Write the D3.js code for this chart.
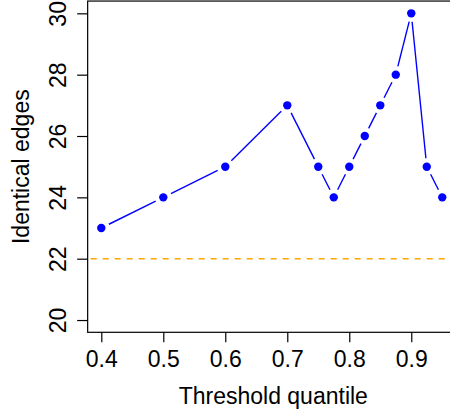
<!DOCTYPE html>
<html><head><meta charset="utf-8">
<script src="https://cdn.jsdelivr.net/npm/d3@7"></script>
<style>
html,body{margin:0;padding:0;background:#fff;}
svg{display:block;}
text{font-family:"Liberation Sans",Arial,Helvetica,sans-serif;fill:#000;}
</style></head>
<body>
<svg id="chart" width="450" height="414"></svg>
<script>
const quantiles = [0.4, 0.5, 0.6, 0.7, 0.75, 0.775, 0.8, 0.825, 0.85, 0.875, 0.9, 0.925, 0.95];
const identicalEdges = [23, 24, 25, 27, 25, 24, 25, 26, 27, 28, 30, 25, 24];
const referenceLevel = 22;
const xTicks = [0.4, 0.5, 0.6, 0.7, 0.8, 0.9];
const yTicks = [20, 22, 24, 26, 28, 30];
const xLabel = "Threshold quantile";
const yLabel = "Identical edges";

const FS = "23px";
const svg = d3.select("#chart");
const x = d3.scaleLinear().domain([0.378, 0.972]).range([87.66, 455.9]);
const y = d3.scaleLinear().domain([19.6, 30.4]).range([332.3, 1.06]);

// box
svg.append("rect")
  .attr("x", x.range()[0]).attr("y", y.range()[1])
  .attr("width", x.range()[1] - x.range()[0])
  .attr("height", y.range()[0] - y.range()[1])
  .attr("fill", "none").attr("stroke", "#000").attr("stroke-width", 1.2);

// x axis
const gx = svg.append("g").attr("transform", `translate(0,${y.range()[0]})`)
  .call(d3.axisBottom(x).tickValues(xTicks).tickSize(10).tickFormat(d3.format(".1f")));
gx.select(".domain").remove();
gx.selectAll(".tick line").attr("stroke", "#000").attr("stroke-width", 1.2);
gx.selectAll(".tick text").attr("y", 34.5).attr("dy", null)
  .style("font-size", FS).attr("fill", "#000");

// y axis
const gy = svg.append("g").attr("transform", `translate(${x.range()[0]},0)`)
  .call(d3.axisLeft(y).tickValues(yTicks).tickSize(10.5).tickFormat(d3.format("d")));
gy.select(".domain").remove();
gy.selectAll(".tick line").attr("stroke", "#000").attr("stroke-width", 1.2);
gy.selectAll(".tick text")
  .attr("x", null).attr("dy", null).attr("y", null)
  .attr("text-anchor", "middle")
  .attr("transform", "translate(-21.3,0) rotate(-90)")
  .style("font-size", FS).attr("fill", "#000");

// axis titles
svg.append("text").attr("x", (x(0.4) + x(0.9)) / 2 + 17).attr("y", 404)
  .attr("text-anchor", "middle").style("font-size", FS).text(xLabel);
svg.append("text")
  .attr("transform", `translate(28.8,${(y.range()[0] + y.range()[1]) / 2}) rotate(-90)`)
  .attr("text-anchor", "middle").style("font-size", FS).text(yLabel);

// reference dashed line
svg.append("line")
  .attr("x1", x.range()[0]).attr("x2", x.range()[1])
  .attr("y1", y(referenceLevel)).attr("y2", y(referenceLevel))
  .attr("stroke", "#FFA500").attr("stroke-width", 1.6)
  .attr("stroke-dasharray", "6,6").attr("stroke-dashoffset", -3);

// line segments with gaps (type "b")
const pts = quantiles.map((q, i) => [x(q), y(identicalEdges[i])]);
const gap = 8.5;
const segs = [];
for (let i = 0; i < pts.length - 1; i++) {
  const [x1, y1] = pts[i], [x2, y2] = pts[i + 1];
  const dx = x2 - x1, dy = y2 - y1, L = Math.hypot(dx, dy);
  if (L > 2 * gap) {
    const ux = dx / L, uy = dy / L;
    segs.push([x1 + ux * gap, y1 + uy * gap, x2 - ux * gap, y2 - uy * gap]);
  }
}
svg.append("g").selectAll("line").data(segs).join("line")
  .attr("x1", d => d[0]).attr("y1", d => d[1])
  .attr("x2", d => d[2]).attr("y2", d => d[3])
  .attr("stroke", "#0000FF").attr("stroke-width", 1.4);

svg.append("g").selectAll("circle").data(quantiles).join("circle")
  .attr("cx", d => x(d)).attr("cy", (d, i) => y(identicalEdges[i]))
  .attr("r", 4.2).attr("fill", "#0000FF");
</script>
</body></html>
